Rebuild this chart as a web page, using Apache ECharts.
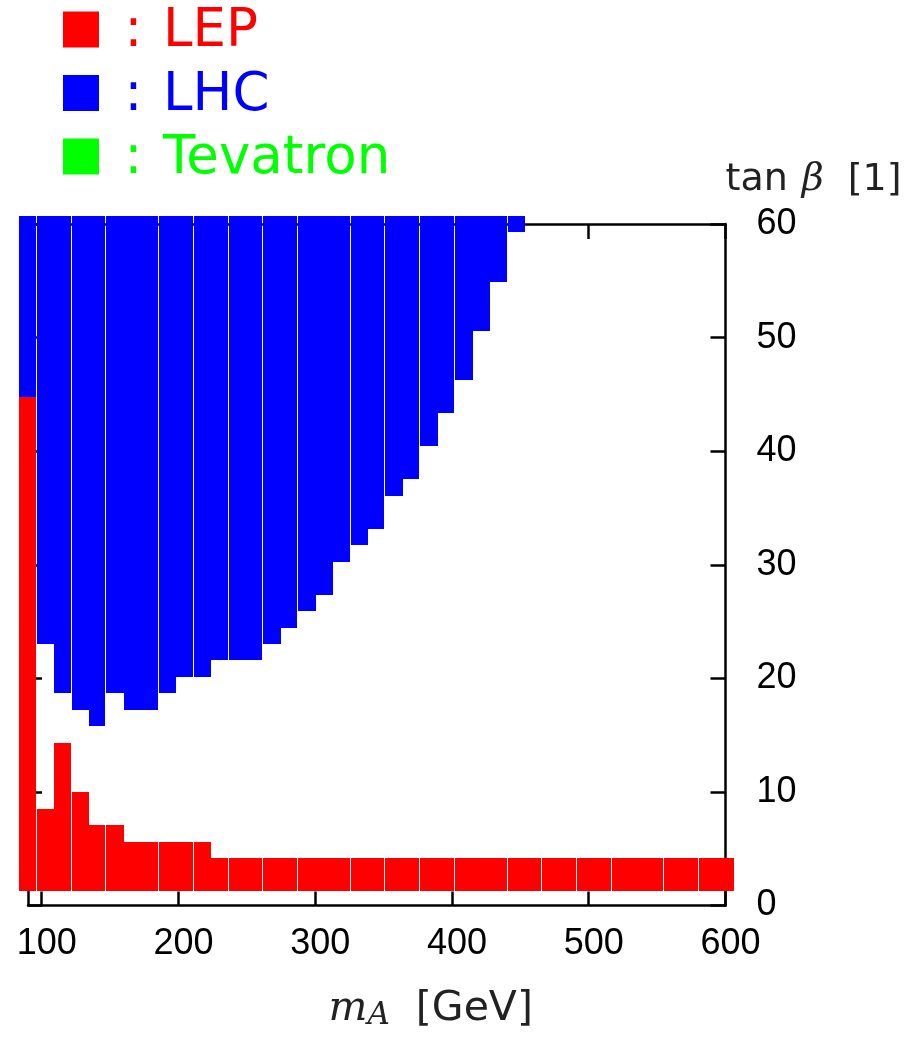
<!DOCTYPE html>
<html>
<head>
<meta charset="utf-8">
<title>LEP / LHC / Tevatron exclusion</title>
<script src="https://cdn.jsdelivr.net/npm/echarts@6/dist/echarts.min.js"></script>
<style>
  html, body { margin: 0; padding: 0; background: #fff; }
  #chart { width: 917px; height: 1041px; }
</style>
</head>
<body>
<div id="chart"></div>
<script>
// scan grid: m_A points (GeV)
var mA = [90, 102.75, 115.5, 128.25, 141, 153.75, 166.5, 179.25, 192, 204.75,
          217.5, 230.25, 243, 255.75, 268.5, 281.25, 294, 306.75, 319.5, 332.25,
          345, 357.75, 370.5, 383.25, 396, 408.75, 421.5, 434.25, 447, 459.75,
          472.5, 485.25, 498, 510.75, 523.5, 536.25, 549, 561.75, 574.5, 587.25, 600];

// highest tan(beta) point excluded by LEP (from tan(beta) = 2 upward)
var lepTop = [44.05, 7.8, 13.6, 9.25, 6.35, 6.35, 4.9, 4.9, 4.9, 4.9, 4.9,
              3.45, 3.45, 3.45, 3.45, 3.45, 3.45, 3.45, 3.45, 3.45, 3.45,
              3.45, 3.45, 3.45, 3.45, 3.45, 3.45, 3.45, 3.45, 3.45, 3.45,
              3.45, 3.45, 3.45, 3.45, 3.45, 3.45, 3.45, 3.45, 3.45, 3.45];

// lowest tan(beta) point excluded by LHC (up to tan(beta) = 60)
var lhcBottom = [45.5, 23.75, 19.4, 17.95, 16.5, 19.4, 17.95, 17.95, 19.4, 20.85,
                 20.85, 22.3, 22.3, 22.3, 23.75, 25.2, 26.65, 28.1, 31.0, 32.45,
                 33.9, 36.8, 38.25, 41.15, 44.05, 46.95, 51.3, 55.65, 60,
                 null, null, null, null, null, null, null, null, null, null, null, null];

// m_A points where a new drawn block starts (thin white seam before it)
var blockStarts = [102.75, 128.25, 153.75, 192, 217.5, 243, 268.5, 294, 332.25,
                   357.75, 383.25, 408.75, 447, 472.5, 498, 523.5, 561.75, 587.25];

var tbMin = 2, tbMax = 60;
var xTicks = [100, 200, 300, 400, 500, 600];

var HALF_MA = 6.375, HALF_TB = 0.725;

function gapAfter(i) {
  return (i + 1 < mA.length && blockStarts.indexOf(mA[i + 1]) >= 0) ? 1 : 0;
}

var lepData = [], lhcData = [];
for (var i = 0; i < mA.length; i++) {
  lepData.push([mA[i], tbMin, lepTop[i], gapAfter(i)]);
  if (lhcBottom[i] != null) lhcData.push([mA[i], lhcBottom[i], tbMax, gapAfter(i)]);
}

function renderCell(params, api) {
  var x = api.value(0), lo = api.value(1), hi = api.value(2), gap = api.value(3);
  var a = api.coord([x - HALF_MA, hi + HALF_TB]);
  var b = api.coord([x + HALF_MA, lo - HALF_TB]);
  var x0 = Math.round(a[0]), x1 = Math.round(b[0]) - (gap ? 1 : 0);
  var y0 = Math.round(a[1]), y1 = Math.round(b[1]);
  return {
    type: 'rect',
    shape: { x: x0, y: y0, width: x1 - x0, height: y1 - y0 },
    style: { fill: api.visual('color') }
  };
}

var chart = echarts.init(document.getElementById('chart'), null, { renderer: 'canvas' });

var axisLine = { show: true, onZero: false, lineStyle: { color: '#000', width: 2.5 } };
var tickStyle = { color: '#000', width: 2.5 };

var option = {
  animation: false,
  backgroundColor: '#fff',
  grid: { left: 28, right: 191.5, top: 224, bottom: 135.5, outerBoundsMode: 'none' },
  legend: {
    orient: 'vertical',
    left: 63, top: 0, padding: 0,
    icon: 'rect', itemWidth: 36, itemHeight: 36, itemGap: 4.5,
    selectedMode: false,
    formatter: function (name) { return '{c|:}{t|' + name + '}'; },
    textStyle: {
      fontFamily: 'DejaVu Sans', fontSize: 53, lineHeight: 50,
      rich: {
        c: { width: 59, align: 'center', fontFamily: 'DejaVu Sans', fontSize: 53, lineHeight: 50, padding: [6, 0, 0, 0] },
        t: { fontFamily: 'DejaVu Sans', fontSize: 53, lineHeight: 50, padding: [6, 0, 0, 0] }
      }
    },
    data: [
      { name: 'LEP', textStyle: { color: '#ff0000' } },
      { name: 'LHC', textStyle: { color: '#0000ff' } },
      { name: 'Tevatron', textStyle: { color: '#00ff00' } }
    ]
  },
  xAxis: [{
    type: 'value', position: 'bottom', min: 90, max: 600,
    axisLine: axisLine,
    axisTick: { show: true, inside: true, length: 14, customValues: xTicks, lineStyle: tickStyle },
    axisLabel: { customValues: xTicks, fontFamily: 'Liberation Sans', fontSize: 36, color: '#000',
                 margin: 21, padding: [0, 0, 0, 10] },
    splitLine: { show: false },
    name: '{i|m}{s|A}{t|[GeV]}',
    nameLocation: 'middle', nameGap: 82,
    nameTextStyle: {
      align: 'center', padding: [0, 0, 0, 108],
      rich: {
        i: { fontFamily: 'DejaVu Serif', fontStyle: 'italic', fontSize: 41, lineHeight: 44, color: '#222' },
        s: { fontFamily: 'DejaVu Serif', fontStyle: 'italic', fontSize: 31, lineHeight: 28,
             verticalAlign: 'bottom', color: '#222', padding: [0, 26, 0, 0] },
        t: { fontFamily: 'DejaVu Sans', fontSize: 41, lineHeight: 44, color: '#222' }
      }
    }
  }, {
    type: 'value', position: 'top', min: 90, max: 600,
    axisLine: axisLine,
    axisTick: { show: true, inside: true, length: 15, customValues: xTicks, lineStyle: tickStyle },
    axisLabel: { show: false },
    splitLine: { show: false }
  }],
  yAxis: [{
    type: 'value', position: 'right', min: 0, max: 60, interval: 10,
    axisLine: axisLine,
    axisTick: { show: true, inside: true, length: 15, lineStyle: tickStyle },
    axisLabel: { fontFamily: 'Liberation Sans', fontSize: 36, color: '#000', margin: 31,
                 padding: [5, 0, 0, 0] },
    splitLine: { show: false },
    name: '{t|tan}{b|β}{t|[1]}',
    nameLocation: 'end', nameGap: 23,
    nameTextStyle: {
      align: 'left', verticalAlign: 'bottom',
      rich: {
        t: { fontFamily: 'DejaVu Sans', fontSize: 38, lineHeight: 42, color: '#222' },
        b: { fontFamily: 'DejaVu Serif', fontStyle: 'italic', fontSize: 38, lineHeight: 42,
             color: '#222', padding: [0, 24, 0, 14] }
      }
    }
  }, {
    type: 'value', position: 'left', min: 0, max: 60, interval: 10,
    axisLine: axisLine,
    axisTick: { show: true, inside: true, length: 14, lineStyle: tickStyle },
    axisLabel: { show: false },
    splitLine: { show: false }
  }],
  series: [{
    name: 'LEP', type: 'custom', renderItem: renderCell, data: lepData,
    encode: { x: 0, y: [1, 2] }, clip: false, silent: true, z: 5,
    itemStyle: { color: '#ff0000' }
  }, {
    name: 'LHC', type: 'custom', renderItem: renderCell, data: lhcData,
    encode: { x: 0, y: [1, 2] }, clip: false, silent: true, z: 5,
    itemStyle: { color: '#0000ff' }
  }, {
    name: 'Tevatron', type: 'custom', renderItem: renderCell, data: [],
    encode: { x: 0, y: [1, 2] }, clip: false, silent: true, z: 5,
    itemStyle: { color: '#00ff00' }
  }]
};

chart.setOption(option);
window.addEventListener('resize', function () { chart.resize(); });
</script>
</body>
</html>
